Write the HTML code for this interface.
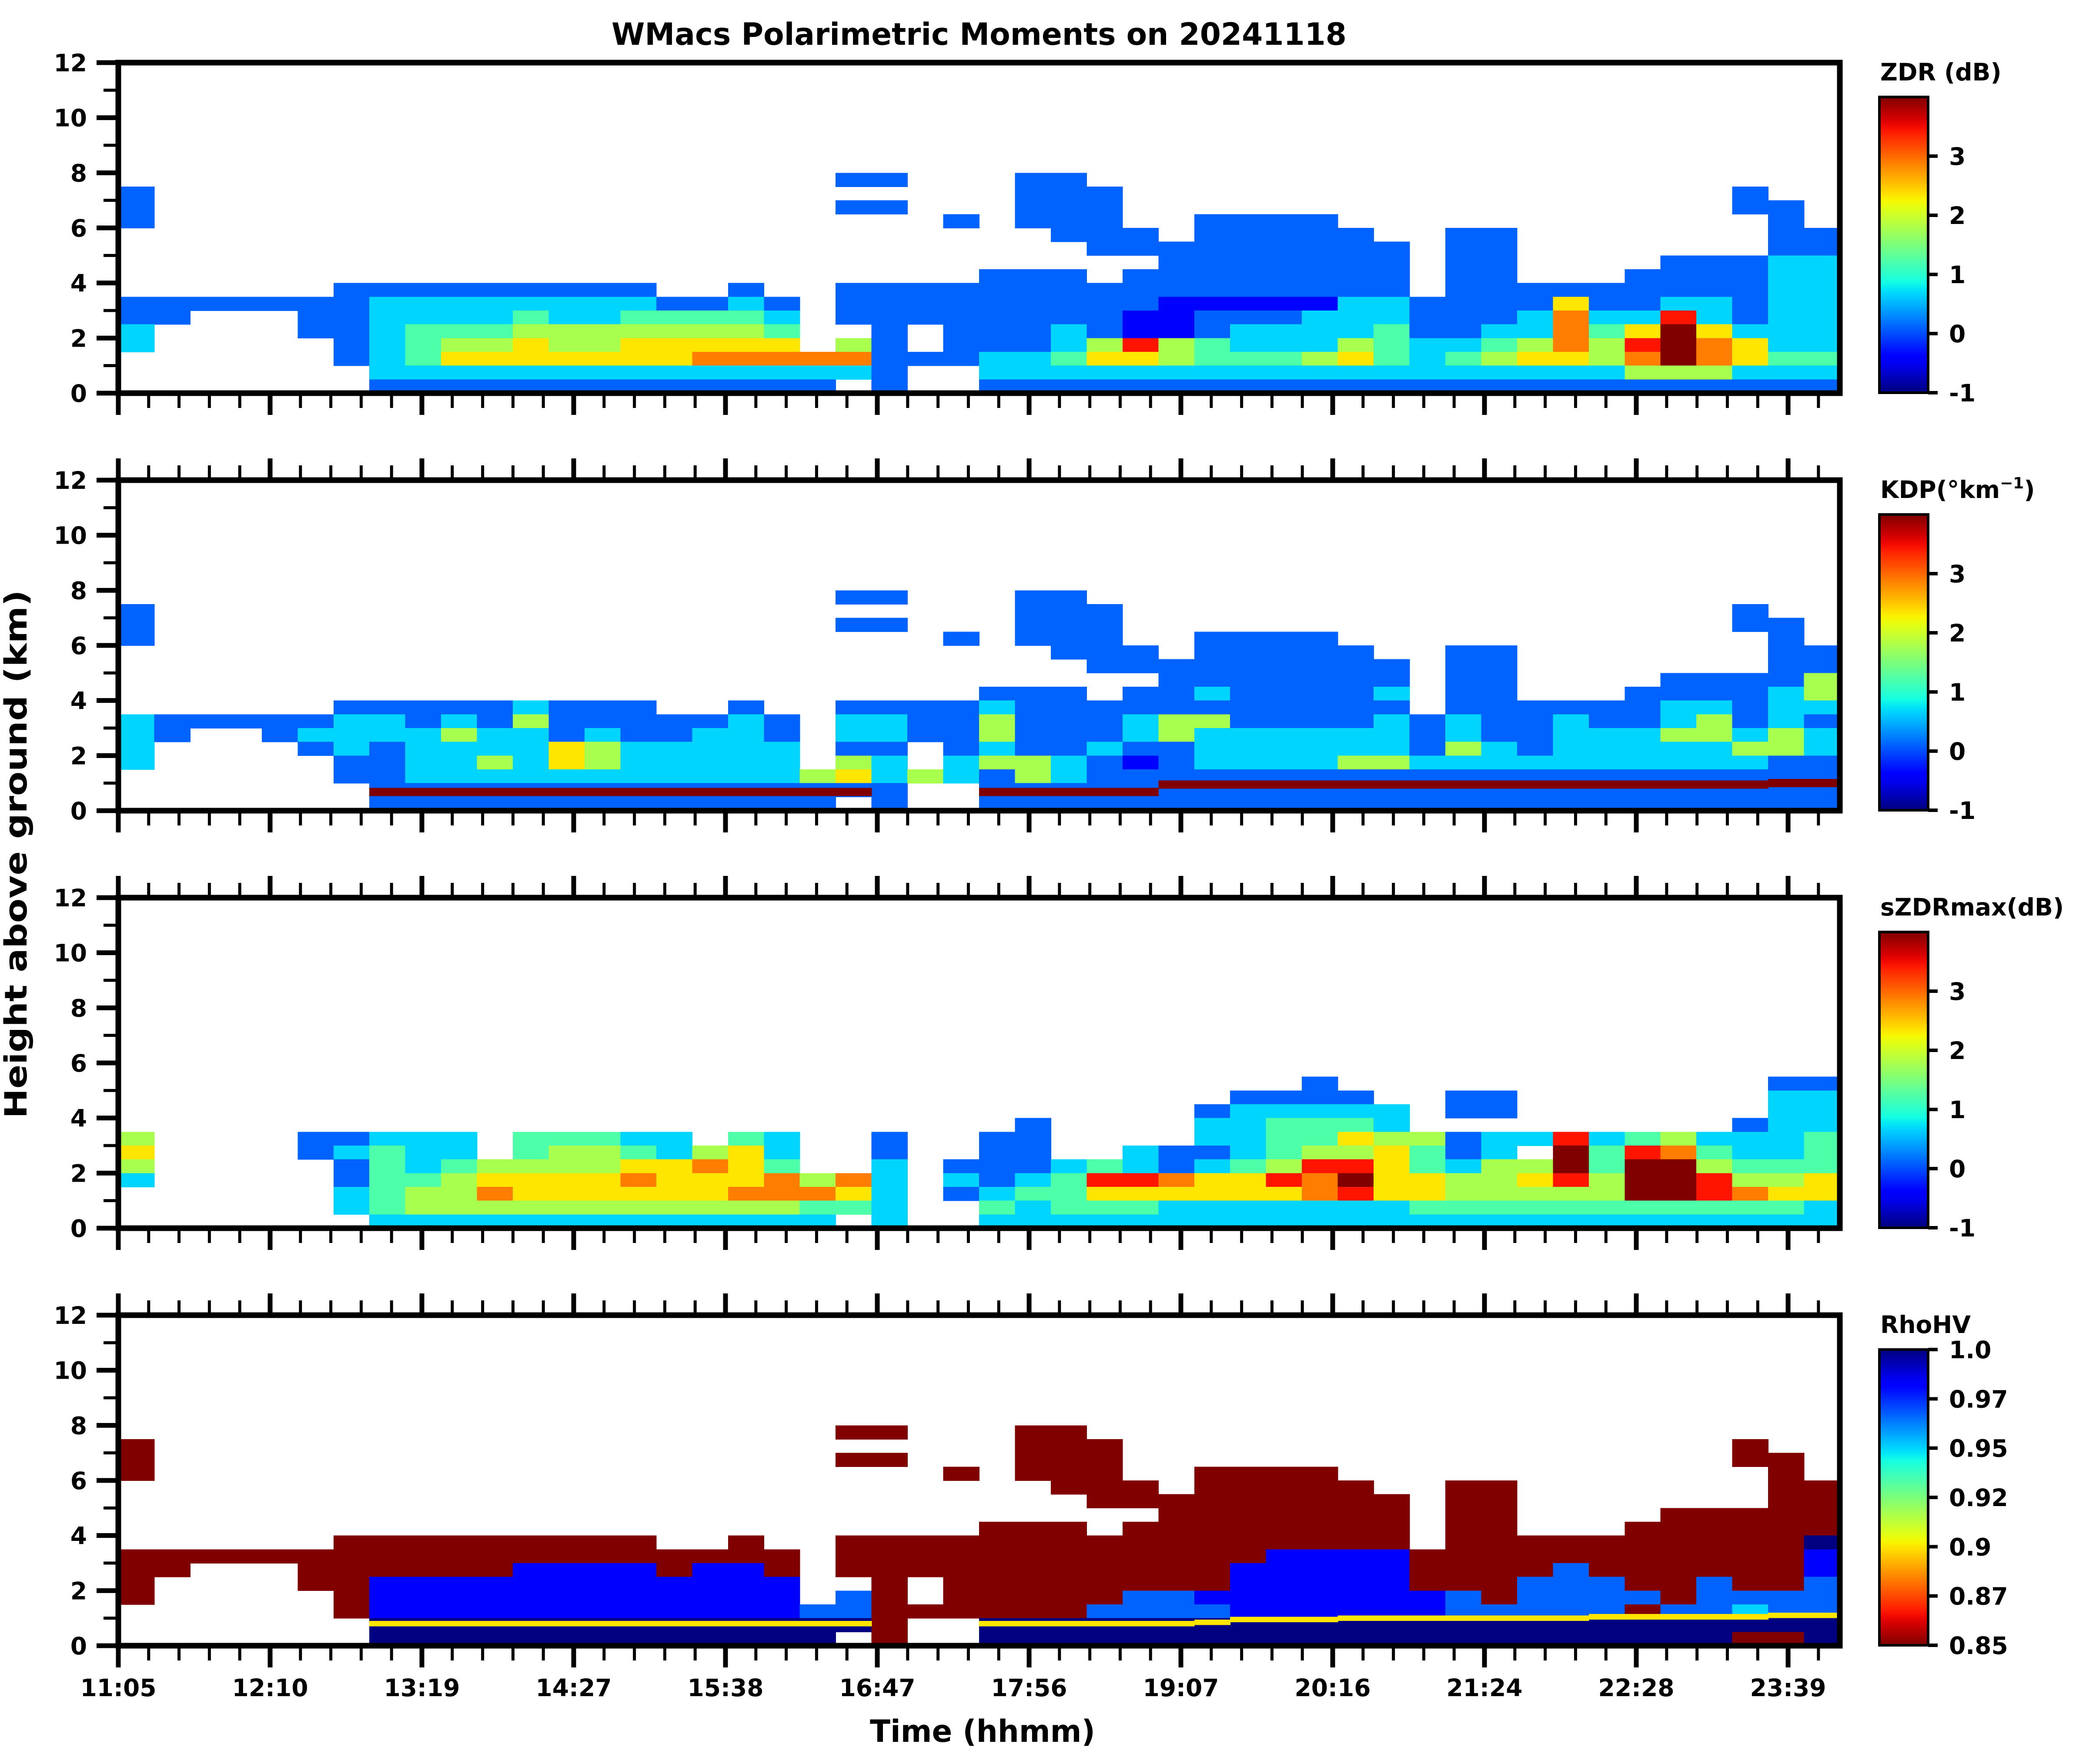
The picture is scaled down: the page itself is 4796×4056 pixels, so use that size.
<!DOCTYPE html>
<html><head><meta charset="utf-8"><title>WMacs Polarimetric Moments</title>
<style>
html,body{margin:0;padding:0;background:#fff;}
svg{display:block;}
text{font-family:"DejaVu Sans","Liberation Sans",sans-serif;font-weight:bold;fill:#000;}
</style></head>
<body>
<svg id="fig" xmlns="http://www.w3.org/2000/svg" width="4796" height="4056" viewBox="0 0 4796 4056">
<rect x="0" y="0" width="4796" height="4056" fill="#fff"/>
<text x="2251" y="103" font-size="70" text-anchor="middle" textLength="1690" lengthAdjust="spacingAndGlyphs">WMacs Polarimetric Moments on 20241118</text>
<text transform="translate(61,1964) rotate(-90)" font-size="70" text-anchor="middle" textLength="1215" lengthAdjust="spacingAndGlyphs">Height above ground (km)</text>
<text x="2259" y="4005" font-size="70" text-anchor="middle" textLength="518" lengthAdjust="spacingAndGlyphs">Time (hhmm)</text>
<g id="layer"></g>
</svg>
<script>
// ---- data (levels 0-9 per cell; '.' = no echo). rows: 8.0-8.5 km (top) down to 0-0.5 km
const zdrRows = [
"........ ........ ........ ........ ........ ........",
"........ ........ ....22.. .22..... ........ ........",
"2....... ........ ........ .222.... ........ .....2..",
"2....... ........ ....22.. .222.... ........ .....22.",
"2....... ........ .......2 .222..22 22...... ......2.",
"........ ........ ........ ..222.22 222..22. ......22",
"........ ........ ........ ...22222 2222.22. ......22",
"........ ........ ........ .....222 2222.22. ...22233",
"........ ........ ........ 222.2222 2222.22. ..222233",
"......22 2222222. .2..2222 22222222 2222.222 22222233",
"22222223 33333332 232.2222 22222111 11332222 62233233",
"22...223 33343344 443.2222 22221122 23332223 73383233",
"3....223 44455555 554..2.2 22321123 33342233 74696333",
"3.....23 45565566 666.52.2 22358543 33543345 75897633",
"......23 46666666 77777222 33466544 45643456 65797644",
".......3 33333333 333332.. 33333333 33333333 33555333",
".......2 22222222 2222.2.. 22222222 22222222 22222222"
];
const kdpRows = [
"........ ........ ........ ........ ........ ........",
"........ ........ ....22.. .22..... ........ ........",
"2....... ........ ........ .222.... ........ .....2..",
"2....... ........ ....22.. .222.... ........ .....22.",
"2....... ........ .......2 .222..22 22...... ......2.",
"........ ........ ........ ..222.22 222..22. ......22",
"........ ........ ........ ...22222 2222.22. ......22",
"........ ........ ........ .....222 2222.22. ...22225",
"........ ........ ........ 222.2232 2223.22. ..222235",
"......22 2223222. .2..2222 32222222 2222.222 22233233",
"32222233 23252222 232.3322 52223552 22232322 32235232",
"32..2333 35332322 332.3322 52223533 33332322 33355353",
"3....232 33336533 333.22.2 32232233 33332532 33333553",
"3.....22 33536533 333.53.3 55321233 33553333 33333322",
"......22 33333333 33356353 25322222 22222222 22222222",
".......2 22222222 222222.. 22222222 22222222 22222222",
".......2 22222222 2222.2.. 22222222 22222222 22222222"
];
const szdrRows = [
"........ ........ ........ ........ ........ ........",
"........ ........ ........ ........ ........ ........",
"........ ........ ........ ........ ........ ........",
"........ ........ ........ ........ ........ ........",
"........ ........ ........ ........ ........ ........",
"........ ........ ........ ........ ........ ........",
"........ ........ ........ ........ .2...... ......22",
"........ ........ ........ .......2 222..22. ......33",
"........ ........ ........ ......23 3333.22. ......33",
"........ ........ ........ .2....33 4443.... .....233",
"5....223 33.44433 .43..2.. 22....33 44655233 83453334",
"6....234 33.45543 563..2.. 22..3223 4556423. 94874334",
"5.....24 34555566 764..3.2 22343234 58864355 94995444",
"3.....24 45666676 667573.3 23488766 87966556 85998556",
"......34 55766666 677763.2 34466666 67866555 55998766",
"......34 55555555 555443.. 43444333 33334444 44444443",
".......3 33333333 3333.3.. 33333333 33333333 33333333"
];
const rhoRows = [
"........ ........ ........ ........ ........ ........",
"........ ........ ....00.. .00..... ........ ........",
"0....... ........ ........ .000.... ........ .....0..",
"0....... ........ ....00.. .000.... ........ .....00.",
"0....... ........ .......0 .000..00 00...... ......0.",
"........ ........ ........ ..000.00 000..00. ......00",
"........ ........ ........ ...00000 0000.00. ......00",
"........ ........ ........ .....000 0000.00. ...00000",
"........ ........ ........ 000.0000 0000.00. ..000000",
"......00 0000000. .0..0000 00000000 0000.000 00000009",
"00000000 00000000 000.0000 00000000 88880000 00000008",
"00...000 00088880 880.0000 00000008 88880000 70000008",
"0....008 88888888 888..0.0 00000008 88880007 77007007",
"0.....08 88888888 888.70.0 00007788 88888707 77707777",
"......08 88888888 88877000 00077778 88888777 77077677",
".......9 99999999 999990.. 99999999 99999999 99999999",
".......9 99999999 9999.0.. 99999999 99999999 99999009"
];
// bright melting-layer line in RhoHV (km), and KDP dark band (km); null = none
const rhoLayerKm = [null,null,null,null,null,null,null,0.8,0.8,0.8,0.8,0.8,0.8,0.8,0.8,0.8,0.8,0.8,0.8,0.8,0.8,null,null,null,0.8,0.8,0.8,0.8,0.8,0.8,0.85,0.95,0.95,0.95,1.0,1.0,1.0,1.0,1.0,1.0,1.0,1.05,1.05,1.05,1.05,1.05,1.1,1.1];
const kdpBandKm = [null,null,null,null,null,null,null,0.68,0.68,0.68,0.68,0.68,0.68,0.68,0.68,0.68,0.68,0.68,0.68,0.68,0.68,null,null,null,0.68,0.68,0.68,0.68,0.68,0.95,0.95,0.95,0.95,0.95,0.95,0.95,0.95,0.95,0.95,0.95,0.95,0.95,0.95,0.95,0.95,0.95,1.0,1.0];
const timeLabels = ["11:05","12:10","13:19","14:27","15:38","16:47","17:56","19:07","20:16","21:24","22:28","23:39"];
const heightTicks = [0,2,4,6,8,10,12];
const zdrCbTicks = [-1,0,1,2,3];
const rhoCbTicks = [0.85,0.875,0.9,0.925,0.95,0.975,1.0];
const rhoCbLabels = ["0.85","0.87","0.9","0.92","0.95","0.97","1.0"];
const cbTitles = ["ZDR (dB)","KDP","sZDRmax(dB)","RhoHV"];

// ---- layout
const NS="http://www.w3.org/2000/svg";
const X0=272, X1=4230, NCOL=48, PANEL_H=760, PANEL_STEP=960, TOP0=144, KM_MAX=12;
const TICK_STEP_COLS=4.2325;
const cellW=(X1-X0)/NCOL;
function xCol(c){return X0+c*cellW;}
function panelTop(p){return TOP0+p*PANEL_STEP;}
function yKm(p,km){return panelTop(p)+PANEL_H-km*PANEL_H/KM_MAX;}
const R=[[0,0],[0.35,0],[0.66,1],[0.89,1],[1,0.5]];
const G=[[0,0],[0.125,0],[0.375,1],[0.64,1],[0.91,0],[1,0]];
const B=[[0,0.5],[0.11,1],[0.34,1],[0.65,0],[1,0]];
function seg(pts,t){for(let i=1;i<pts.length;i++){if(t<=pts[i][0]){const a=pts[i-1],b=pts[i];return a[1]+(b[1]-a[1])*(t-a[0])/(b[0]-a[0]);}}return pts[pts.length-1][1];}
function jet(t){t=Math.max(0,Math.min(1,t));return "rgb("+Math.round(seg(R,t)*255)+","+Math.round(seg(G,t)*255)+","+Math.round(seg(B,t)*255)+")";}
function mk(tag,attrs,parent){const e=document.createElementNS(NS,tag);for(const k in attrs)e.setAttribute(k,attrs[k]);parent.appendChild(e);return e;}

const panels=[
 {rows:zdrRows,vmin:-1,vmax:4,rev:false,name:"zdr"},
 {rows:kdpRows,vmin:-1,vmax:4,rev:false,name:"kdp"},
 {rows:szdrRows,vmin:-1,vmax:4,rev:false,name:"szdrmax"},
 {rows:rhoRows,vmin:0.85,vmax:1.0,rev:true,name:"rhohv"}
];
function levelToValue(P,d){return P.vmin+(P.vmax-P.vmin)*d/9;}
function valueColor(P,v){const n=(v-P.vmin)/(P.vmax-P.vmin);return jet(P.rev?1-n:n);}

const layer=document.getElementById("layer");
const svg=document.getElementById("fig");
const defs=mk("defs",{},svg);

panels.forEach((P,p)=>{
  const top=panelTop(p), bot=top+PANEL_H;
  const g=mk("g",{},layer);
  
  
  const clip=mk("clipPath",{id:"clip"+p},defs);
  mk("rect",{x:X0,y:top,width:X1-X0,height:PANEL_H},clip);
  const hm=mk("g",{"clip-path":"url(#clip"+p+")","shape-rendering":"crispEdges"},g);
  
  
  P.rows.forEach((rowStr,r)=>{
    const row=rowStr.replace(/ /g,"");
    const kmTop=8.5-0.5*r, kmBot=kmTop-0.5;
    for(let c=0;c<NCOL;c++){
      const ch=row[c];
      if(!ch||ch===".")continue;
      const v=levelToValue(P,parseInt(ch,10));
      const rc=mk("rect",{x:xCol(c).toFixed(1),y:yKm(p,kmTop).toFixed(1),width:(cellW+0.8).toFixed(1),height:(yKm(p,kmBot)-yKm(p,kmTop)+0.8).toFixed(1),fill:valueColor(P,v)},hm);
      
      
    }
  });
  if(p===1||p===3){
    const arr=p===1?kdpBandKm:rhoLayerKm;
    const th=p===1?0.3:0.2;
    const col=p===1?valueColor(P,levelToValue(P,9)):valueColor(P,levelToValue(P,3));
    arr.forEach((km,c)=>{
      if(km===null)return;
      const b=mk("rect",{x:xCol(c).toFixed(1),y:yKm(p,km+th/2).toFixed(1),width:(cellW+0.8).toFixed(1),height:(th*PANEL_H/KM_MAX).toFixed(1),fill:col},hm);
      
      
    });
  }
  const sp=mk("rect",{x:X0,y:top,width:X1-X0,height:PANEL_H,fill:"none",stroke:"#000","stroke-width":13},g);
  
  
  const yax=mk("g",{},g);
  
  
  for(let km=0;km<=KM_MAX;km++){
    const major=km%2===0, y=yKm(p,km);
    const t=mk("line",{x1:X0-(major?50:34),x2:X0,y1:y,y2:y,stroke:"#000","stroke-width":major?11:7},yax);
    
    
  }
  heightTicks.forEach(km=>{
    const t=mk("text",{x:200,y:yKm(p,km)+20,"font-size":55,"text-anchor":"end"},yax);
    t.textContent=String(km);
    
    
  });
  const xax=mk("g",{},g);
  
  
  const nMinor=(timeLabels.length-1)*5+1;
  for(let i=0;i<=nMinor;i++){
    const x=xCol(i*TICK_STEP_COLS/5);
    if(x>X1-5)break;
    const major=i%5===0, len=major?50:34, w=major?11:7;
    const tb=mk("line",{x1:x,x2:x,y1:bot,y2:bot+len,stroke:"#000","stroke-width":w},xax);
    
    
    if(p>0){
      const tt=mk("line",{x1:x,x2:x,y1:top-len,y2:top,stroke:"#000","stroke-width":w},xax);
      
      
    }
  }
  if(p===3){
    timeLabels.forEach((lab,i)=>{
      const t=mk("text",{x:xCol(i*TICK_STEP_COLS),y:3900,"font-size":55,"text-anchor":"middle"},xax);
      t.textContent=lab;
      
      
    });
  }
  const cbTop=top+79, cbBot=bot-1, cbX=4321, cbW=112;
  const cb=mk("g",{},g);
  
  
  const grad=mk("linearGradient",{id:"grad"+p,x1:0,y1:1,x2:0,y2:0},defs);
  for(let k=0;k<=40;k++){const f=k/40;mk("stop",{offset:f,"stop-color":jet(P.rev?1-f:f)},grad);}
  const cr=mk("rect",{x:cbX,y:cbTop,width:cbW,height:cbBot-cbTop,fill:"url(#grad"+p+")",stroke:"#000","stroke-width":6},cb);
  
  
  const ticks=P.rev?rhoCbTicks:zdrCbTicks;
  ticks.forEach((v,i)=>{
    const y=cbBot-(v-P.vmin)/(P.vmax-P.vmin)*(cbBot-cbTop);
    const tl=mk("line",{x1:cbX+cbW,x2:cbX+cbW+22,y1:y,y2:y,stroke:"#000","stroke-width":8},cb);
    
    
    const tx=mk("text",{x:4481,y:y+20,"font-size":55},cb);
    tx.textContent=P.rev?rhoCbLabels[i]:String(v);
    
    
  });
  const ttl=mk("text",{x:4323,y:top+41,"font-size":55},cb);
  
  
  if(p===1){
    ttl.appendChild(document.createTextNode("KDP(°km"));
    const sup=mk("tspan",{"font-size":36,dy:-22},ttl);
    sup.textContent="−1";
    const cl=mk("tspan",{"font-size":55,dy:22},ttl);
    cl.textContent=")";
  } else {
    ttl.textContent=cbTitles[p];
  }
});
</script>
</body></html>
